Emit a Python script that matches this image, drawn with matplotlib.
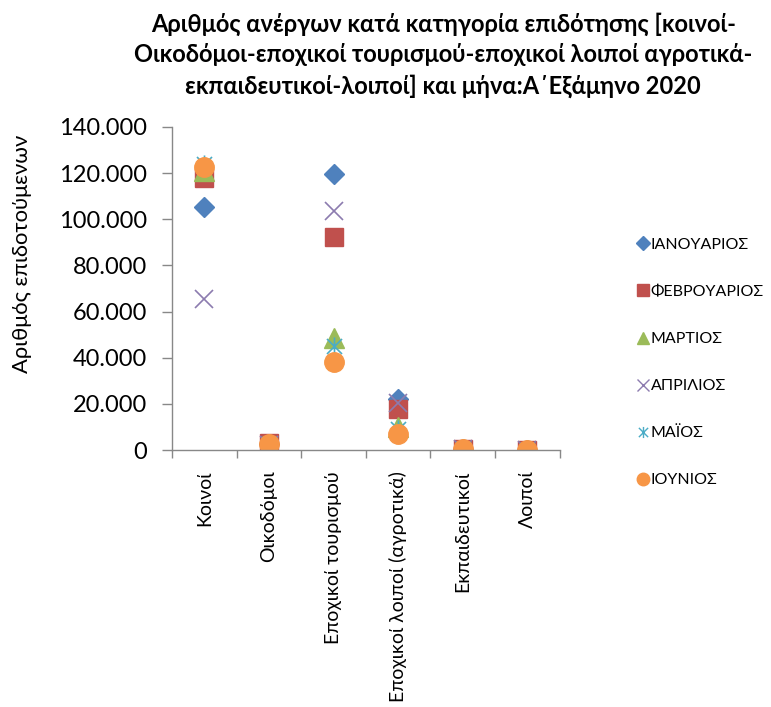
import matplotlib
matplotlib.use("Agg")
import matplotlib.pyplot as plt
from matplotlib.path import Path
from matplotlib.ticker import FuncFormatter, FixedLocator, NullFormatter
import numpy as np

plt.rcParams['font.family'] = ['Lato', 'DejaVu Sans']

categories = ["Κοινοί", "Οικοδόμοι", "Εποχικοί τουρισμού",
              "Εποχικοί λοιποί (αγροτικά)", "Εκπαιδευτικοί", "Λοιποί"]
months = ["ΙΑΝΟΥΑΡΙΟΣ", "ΦΕΒΡΟΥΑΡΙΟΣ", "ΜΑΡΤΙΟΣ", "ΑΠΡΙΛΙΟΣ", "ΜΑΪΟΣ", "ΙΟΥΝΙΟΣ"]

jan = [105500, 2500, 119500, 22300, 300, 200]
feb = [118000, 3200, 92500, 17900, 300, 200]
mar = [121000, 2800, 48500, 9800, 300, 200]
apr = [65300, 2000, 103500, 20500, 300, 200]
may = [124000, 2500, 45000, 9000, 300, 200]
jun = [122500, 2600, 38000, 6900, 300, 200]

series = [jan, feb, mar, apr, may, jun]
colors = ["#4F81BD", "#C0504D", "#9BBB59", "#8C7BAF", "#4BACC6", "#F79646"]

star = Path([(-1, -1), (1, 1), (-1, 1), (1, -1), (0, -1.2), (0, 1.2)],
            [Path.MOVETO, Path.LINETO, Path.MOVETO, Path.LINETO, Path.MOVETO, Path.LINETO])
styles = [
    dict(marker='D', ms=10),
    dict(marker='s', ms=13),
    dict(marker='^', ms=14),
    dict(marker='x', ms=13, mew=1.2),
    dict(marker=star, ms=13, mew=1.2),
    dict(marker='o', ms=14),
]

fig = plt.figure(figsize=(7.71, 7.07), dpi=100)
ax = fig.add_axes([0.223, 0.3635, 0.503, 0.457])

x = np.arange(len(categories))
for vals, c, st, name in zip(series, colors, styles, months):
    ax.plot(x, vals, linestyle='none', color=c, markeredgecolor=c,
            markerfacecolor=c, label=name, **st)

ax.set_xlim(-0.5, len(categories) - 0.5)
ax.set_ylim(0, 140000)
ax.set_yticks(np.arange(0, 140001, 20000))
ax.yaxis.set_major_formatter(FuncFormatter(lambda v, p: f"{int(v):,}".replace(",", ".")))
ax.tick_params(axis='y', labelsize=17, length=7, color='#888888', width=1, pad=11)

ax.set_xticks(x)
ax.set_xticklabels(categories, rotation=90, fontsize=14)
ax.tick_params(axis='x', length=0, pad=15)
ax.xaxis.set_minor_locator(FixedLocator(np.arange(-0.5, len(categories), 1.0)))
ax.xaxis.set_minor_formatter(NullFormatter())
ax.tick_params(axis='x', which='minor', length=6, color='#888888', width=1)

for s in ['top', 'right']:
    ax.spines[s].set_visible(False)
for s in ['left', 'bottom']:
    ax.spines[s].set_color('#888888')
    ax.spines[s].set_linewidth(1)

fig.text(22 / 771, 1 - 254 / 707, "Αριθμός επιδοτούμενων", rotation=90,
         ha='center', va='center', fontsize=15.8)

fig.text(0.575, 1 - 12 / 707,
         "Αριθμός ανέργων κατά κατηγορία επιδότησης [κοινοί-\n"
         "Οικοδόμοι-εποχικοί τουρισμού-εποχικοί λοιποί αγροτικά-\n"
         "εκπαιδευτικοί-λοιποί] και μήνα:Α΄Εξάμηνο 2020",
         ha='center', va='top', fontsize=17, fontweight='bold', linespacing=1.42,
         multialignment='center')

leg_styles = [dict(marker='D', ms=7), dict(marker='s', ms=9), dict(marker='^', ms=9),
              dict(marker='x', ms=9, mew=1.0), dict(marker=star, ms=8, mew=1.0), dict(marker='o', ms=9)]
leg_handles = []
for c, st, name in zip(colors, leg_styles, months):
    h = plt.Line2D([], [], linestyle='none', color=c, markeredgecolor=c, markerfacecolor=c, label=name, **st)
    leg_handles.append(h)
fig.legend(handles=leg_handles, loc='upper left', bbox_to_anchor=(0.815, 0.675),
           frameon=False, fontsize=11.5, labelspacing=2.06, handlelength=0.8,
           handletextpad=0.1, borderpad=0)

fig.savefig("out.png", dpi=100)
